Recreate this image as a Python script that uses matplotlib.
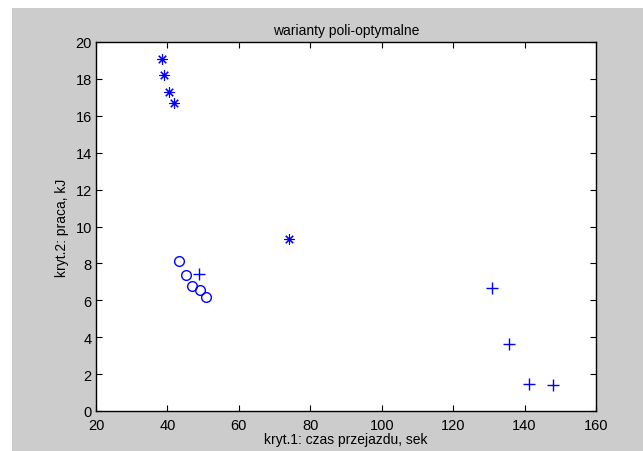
import matplotlib.pyplot as plt
from matplotlib.patches import Rectangle

# punkty oznaczone gwiazdka
gw_x = [38.5, 39.1, 40.4, 41.9, 73.9]
gw_y = [19.08, 18.23, 17.31, 16.71, 9.32]

# punkty oznaczone kolkiem
ko_x = [43.2, 45.1, 47.0, 49.1, 50.7]
ko_y = [8.11, 7.37, 6.79, 6.54, 6.18]

# punkty oznaczone plusem
pl_x = [48.8, 130.9, 135.7, 141.2, 147.9]
pl_y = [7.43, 6.65, 3.62, 1.46, 1.41]

xticks = [20, 40, 60, 80, 100, 120, 140, 160]
yticks = [0, 2, 4, 6, 8, 10, 12, 14, 16, 18, 20]

plt.rcParams['font.family'] = ['Liberation Sans', 'DejaVu Sans']

fig = plt.figure(figsize=(6.43, 4.52), dpi=100, facecolor='white')
# szare tlo jak w oknie MATLABa
fig.add_artist(Rectangle((12 / 643, 0), 1 - 12 / 643, (452 - 9) / 452,
                         transform=fig.transFigure, facecolor='#cccccc',
                         edgecolor='none', zorder=-10))

ax = fig.add_axes([96 / 643, 1 - 412 / 452, 500 / 643, 369 / 452])
ax.set_facecolor('white')

ax.plot(gw_x, gw_y, linestyle='none', marker=(8, 2, 0), color='blue',
        markersize=7.5, markeredgewidth=0.8)
ax.plot(ko_x, ko_y, linestyle='none', marker='o', markerfacecolor='none',
        markeredgecolor='blue', markersize=7, markeredgewidth=1.0)
ax.plot(pl_x, pl_y, linestyle='none', marker='+', color='blue',
        markersize=9, markeredgewidth=1.0)

ax.set_xlim(20, 160)
ax.set_ylim(0, 20)
ax.set_xticks(xticks)
ax.set_yticks(yticks)
ax.tick_params(direction='in', length=4, width=0.8, top=True, right=True,
               labelsize=10.5)
ax.tick_params(axis='x', pad=5)
ax.tick_params(axis='y', pad=3)
for s in ax.spines.values():
    s.set_linewidth(1.0)
    s.set_color('black')

ax.set_title('warianty poli-optymalne', fontsize=10, pad=6)
ax.set_xlabel('kryt.1: czas przejazdu, sek', fontsize=10, labelpad=0)
ax.set_ylabel('kryt.2: praca, kJ', fontsize=10, labelpad=5)

fig.savefig('out.png', dpi=100, facecolor=fig.get_facecolor())
